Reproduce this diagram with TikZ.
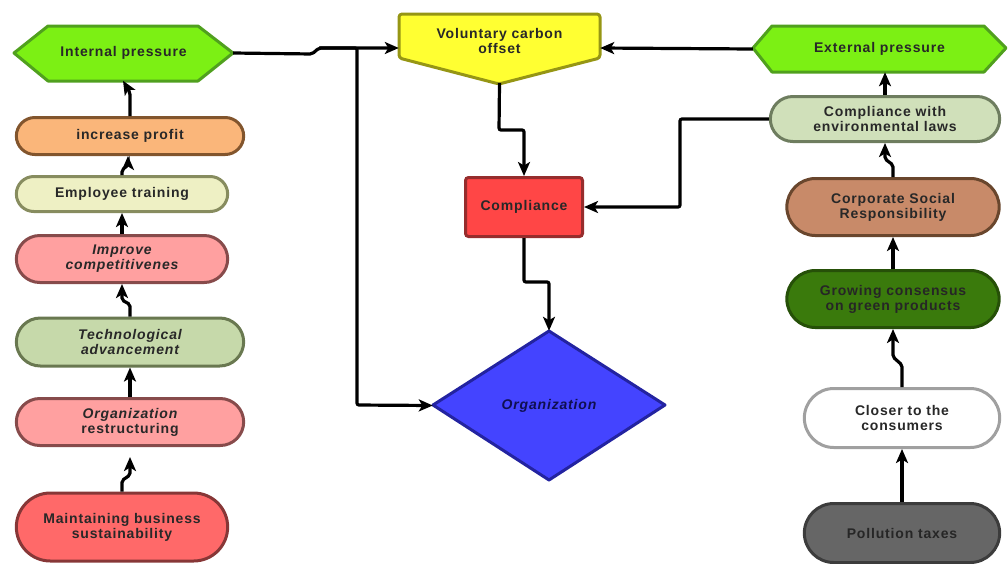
\documentclass[tikz,border=0pt]{standalone}
\usepackage{fontspec}
\setmainfont{Liberation Sans}[LetterSpace=6]
\usetikzlibrary{shapes.misc,shapes.geometric,arrows.meta,calc}
\definecolor{hexfill}{RGB}{124,240,20}
\definecolor{hexdraw}{RGB}{80,160,30}
\definecolor{incfill}{RGB}{250,182,122}
\definecolor{incdraw}{RGB}{130,85,45}
\definecolor{empfill}{RGB}{238,240,196}
\definecolor{empdraw}{RGB}{135,140,95}
\definecolor{impfill}{RGB}{255,160,160}
\definecolor{impdraw}{RGB}{135,75,75}
\definecolor{tecfill}{RGB}{198,217,170}
\definecolor{tecdraw}{RGB}{105,120,80}
\definecolor{maifill}{RGB}{255,105,105}
\definecolor{maidraw}{RGB}{135,55,55}
\definecolor{vcofill}{RGB}{255,255,50}
\definecolor{vcodraw}{RGB}{150,150,20}
\definecolor{cmpfill}{RGB}{255,70,70}
\definecolor{cmpdraw}{RGB}{150,45,45}
\definecolor{orgfill}{RGB}{68,68,255}
\definecolor{orgdraw}{RGB}{35,35,160}
\definecolor{orgtext}{RGB}{15,15,80}
\definecolor{cwefill}{RGB}{208,224,186}
\definecolor{cwedraw}{RGB}{110,125,95}
\definecolor{csrfill}{RGB}{200,138,105}
\definecolor{csrdraw}{RGB}{105,70,45}
\definecolor{grofill}{RGB}{58,122,12}
\definecolor{grodraw}{RGB}{38,80,8}
\definecolor{clodraw}{RGB}{160,160,160}
\definecolor{polfill}{RGB}{102,102,102}
\definecolor{poldraw}{RGB}{60,60,60}
\definecolor{txt}{RGB}{40,40,40}
\tikzset{
  lbl/.style={font=\fontsize{14}{15}\selectfont\bfseries, text=txt, align=center},
  pill/.style={lbl, rounded rectangle, line width=3pt},
  shp/.style={line width=3pt, line join=round},
  conn/.style={line width=3.2pt, rounded corners=2pt, -{Stealth[length=14pt,width=12pt,inset=3.5pt]}},
}
\begin{document}
\begin{tikzpicture}[x=1pt,y=-1pt]
\useasboundingbox (0,0) rectangle (1008,563);
% ---- left column
\draw[shp, draw=hexdraw, fill=hexfill] (14,53) -- (48,26) -- (198,26) -- (233,53) -- (198,81) -- (48,81) -- cycle;
\node[lbl, minimum width=219pt, minimum height=55pt] (ipr) at (123.5,53) {Internal pressure};
\node[pill, draw=incdraw, fill=incfill, minimum width=234pt, minimum height=37pt] (inc) at (130,136) {increase profit};
\node[pill, draw=empdraw, fill=empfill, minimum width=218pt, minimum height=35pt] (emp) at (122,194) {Employee training};
\node[pill, draw=impdraw, fill=impfill, minimum width=218pt, minimum height=47pt] (imp) at (122,259) {\itshape Improve\\\itshape competitivenes};
\node[pill, draw=tecdraw, fill=tecfill, minimum width=234pt, minimum height=48pt] (tec) at (130,342) {\itshape Technological\\\itshape advancement};
\node[pill, draw=impdraw, fill=impfill, minimum width=234pt, minimum height=47pt] (res) at (130,422) {\itshape Organization\\restructuring};
\node[pill, draw=maidraw, fill=maifill, minimum width=218pt, minimum height=68pt] (mai) at (122,527) {Maintaining business\\sustainability};
% ---- centre
\draw[shp, draw=vcodraw, fill=vcofill, rounded corners=3pt] (399,14) -- (600,14) -- (600,58) -- (499,84) -- (399,58) -- cycle;
\node[lbl, minimum width=201pt, minimum height=70pt, text depth=0pt] (vco) at (499.5,48) {};
\node[lbl] at (499.5,41) {Voluntary carbon\\offset};
\node[lbl, rectangle, rounded corners=3pt, line width=3pt, draw=cmpdraw, fill=cmpfill, minimum width=117pt, minimum height=59pt] (cmp) at (524,207) {Compliance};
\draw[shp, draw=orgdraw, fill=orgfill] (433,405) -- (549,331) -- (665,405) -- (549,480) -- cycle;
\node[lbl, text=orgtext, minimum width=232pt, minimum height=149pt] (org) at (549,405.5) {\itshape Organization};
% ---- right column
\draw[shp, draw=hexdraw, fill=hexfill] (753,48) -- (772,26) -- (984,26) -- (1006,48) -- (984,72) -- (772,72) -- cycle;
\node[lbl, minimum width=253pt, minimum height=46pt] (epr) at (879.5,49) {External pressure};
\node[pill, draw=cwedraw, fill=cwefill, minimum width=236pt, minimum height=45pt] (cwe) at (885,119) {Compliance with\\environmental laws};
\node[pill, draw=csrdraw, fill=csrfill, minimum width=219pt, minimum height=57pt] (csr) at (893,207) {Corporate Social\\Responsibility};
\node[pill, draw=grodraw, fill=grofill, text=black!85, minimum width=219pt, minimum height=57pt] (gro) at (893,299) {Growing consensus\\on green products};
\node[pill, draw=clodraw, fill=white, minimum width=202pt, minimum height=59pt] (clo) at (902,418) {Closer to the\\consumers};
\node[pill, draw=poldraw, fill=polfill, text=black!85, minimum width=202pt, minimum height=59pt] (pol) at (902,533) {Pollution taxes};
% ---- connectors left
\draw[conn] (inc.north) -- ++(0,-12) -- ($(ipr.south)+(6.5,16)$) -- ++(0,-4) -- (ipr.south -| 123,0);
\draw[conn] (emp.north) -- ++(0,-5) -- ($(inc.south)+(-2,9)$) -- ($(inc.south)+(-2,0)$);
\draw[conn] (imp.north) -- (emp.south);
\draw[conn] (tec.north) -- ++(0,-12) -- ($(imp.south)+(0,16)$) -- (imp.south);
\draw[conn] (res.north) -- (tec.south);
\draw[conn, shorten >=10pt] (mai.north) -- ++(0,-11) -- ($(res.south)+(0,28)$) -- (res.south);
% ---- centre connectors
\draw[conn] (ipr.east) -- (312,54) -- (319,48) -- (vco.west);
\draw[conn] (319,48) -- (357,48) -- (357,405) -- (org.west);
\draw[conn] (epr.west) -- (vco.east);
\draw[conn] (vco.south) -- (499,130) -- (524,130) -- (cmp.north);
\draw[conn] (cmp.south) -- (524,282) -- (549,282) -- (org.north);
\draw[conn] (cwe.west) -- (680,119) -- (680,207) -- (cmp.east);
% ---- right connectors
\draw[conn] (cwe.north) -- (cwe.north |- epr.south);
\draw[conn] (csr.north) -- ++(0,-12) -- ($(cwe.south)+(0,16)$) -- (cwe.south);
\draw[conn] (gro.north) -- (csr.south);
\draw[conn] (clo.north) -- ++(0,-22) -- ($(gro.south)+(0,28)$) -- (gro.south);
\draw[conn] (pol.north) -- (clo.south);
\end{tikzpicture}
\end{document}
